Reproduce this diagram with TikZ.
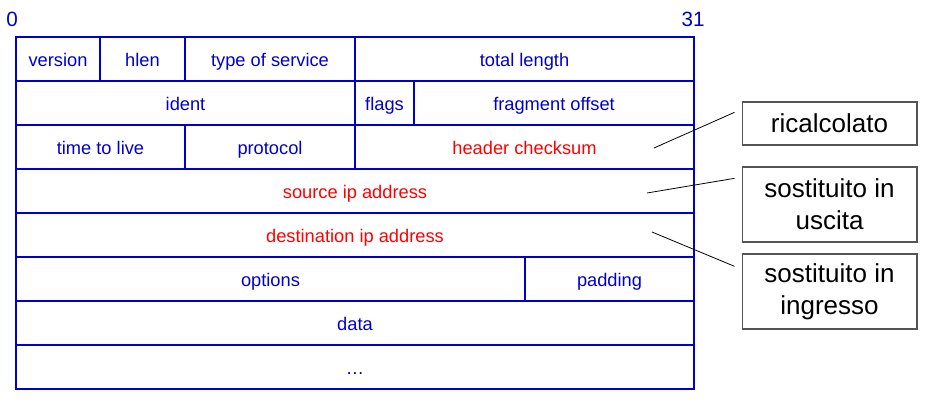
\documentclass[tikz,border=0pt]{standalone}
\usepackage{fontspec}
\setmainfont{Liberation Sans}
\usepackage{tikz}
\usetikzlibrary{calc}
\definecolor{pktblue}{HTML}{0000CC}
\definecolor{chgred}{HTML}{FF0000}
\definecolor{notegray}{HTML}{555555}

\begin{document}
\begin{tikzpicture}[x=0.75pt,y=-0.75pt,
  field/.style={draw=pktblue,line width=1.4pt,minimum height=33pt,inner sep=0pt,
                text height=13.5pt,text depth=3pt,
                font=\fontsize{13.7}{15}\selectfont,text=pktblue},
  wd/.style={minimum width=#1*0.75pt},
  chg/.style={text=chgred},
  bit/.style={font=\fontsize{15.5}{17}\selectfont,text=pktblue,inner sep=0pt},
  note/.style={draw=notegray,line width=1pt,inner sep=0pt,minimum width=131pt,
               align=center,font=\fontsize{19.5}{24}\selectfont},
  lead/.style={line width=0.6pt},
]
  \useasboundingbox (0,0) rectangle (928,407);

  % bit numbers
  \node[bit] (b0) at (12,19.5) {0};
  \node[bit] (b31) at (693,19.5) {31};

  % header fields
  \node[field,wd=84] (ver) at (58,59) {version};
  \node[field,wd=85] (hlen) at (142.5,59) {hlen};
  \node[field,wd=170] (tos) at (270,59) {type of service};
  \node[field,wd=339] (tlen) at (524.5,59) {total length};

  \node[field,wd=339] (ident) at (185.5,103) {ident};
  \node[field,wd=59] (flags) at (384.5,103) {flags};
  \node[field,wd=280] (frag) at (554,103) {fragment offset};

  \node[field,wd=169] (ttl) at (100.5,147) {time to live};
  \node[field,wd=170] (proto) at (270,147) {protocol};
  \node[field,chg,wd=339] (cksum) at (524.5,147) {header checksum};

  \node[field,chg,wd=678] (src) at (355,191) {source ip address};
  \node[field,chg,wd=678] (dst) at (355,235) {destination ip address};

  \node[field,wd=509] (opts) at (270.5,279) {options};
  \node[field,wd=169] (pad) at (609.5,279) {padding};

  \node[field,wd=678] (data) at (355,323) {data};
  \node[field,wd=678] (more) at (355,367) {\dots};

  % notes
  \node[note,minimum height=32.25pt] (ric) at (829.5,123.5) {ricalcolato};
  \node[note,minimum height=56.25pt] (out) at (829.5,204.5) {sostituito in\\uscita};
  \node[note,minimum height=56.25pt] (in) at (829.5,291.5) {sostituito in\\ingresso};

  \coordinate (ckpt) at (654,148);
  \coordinate (srcpt) at (647,193);
  \coordinate (dstpt) at (652,232);

  \draw[lead] (ckpt) -- ($(ric.north west)+(-7,11)$);
  \draw[lead] (srcpt) -- ($(out.north west)+(-7,12)$);
  \draw[lead] (dstpt) -- ($(in.north west)+(-7,13)$);
\end{tikzpicture}
\end{document}
